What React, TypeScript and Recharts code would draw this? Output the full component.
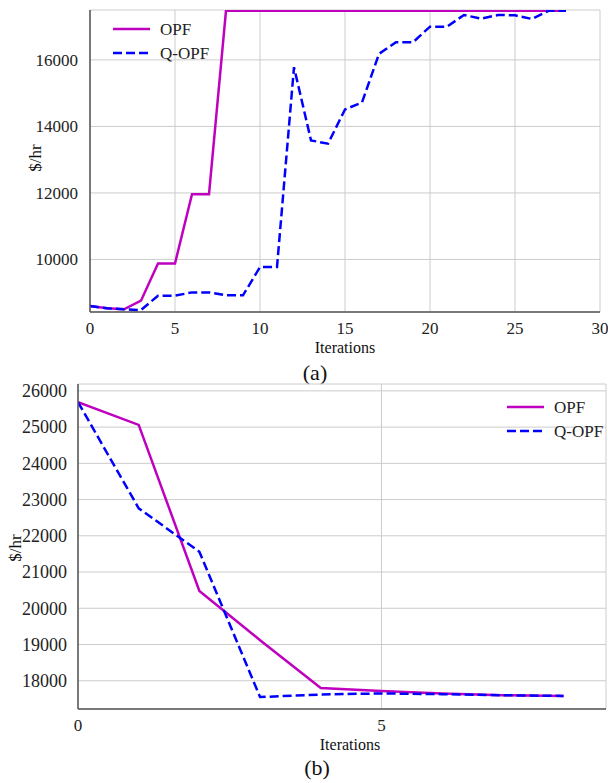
import { LineChart, Line, XAxis, YAxis, CartesianGrid } from "recharts";

// (a) iterations 0..28
const itersA = [0, 1, 2, 3, 4, 5, 6, 7, 8, 9, 10, 11, 12, 13, 14, 15, 16, 17, 18, 19, 20, 21, 22, 23, 24, 25, 26, 27, 28];
const opfA = [8600, 8530, 8500, 8760, 9880, 9880, 11960, 11960, 17480, 17480, 17480, 17480, 17480, 17480, 17480, 17480, 17480, 17480, 17480, 17480, 17480, 17480, 17480, 17480, 17480, 17480, 17480, 17480, 17480];
const qopfA = [8600, 8530, 8500, 8480, 8910, 8910, 9010, 9010, 8920, 8920, 9770, 9770, 15780, 13580, 13480, 14510, 14720, 16180, 16530, 16530, 17000, 17000, 17350, 17240, 17350, 17340, 17230, 17480, 17480];
const xTicksA = [0, 5, 10, 15, 20, 25, 30];
const yTicksA = [10000, 12000, 14000, 16000];

// (b) iterations 0..8
const itersB = [0, 1, 2, 3, 4, 5, 6, 7, 8];
const opfB = [25690, 25060, 20480, 19120, 17800, 17720, 17650, 17600, 17580];
const qopfB = [25690, 22760, 21560, 17550, 17620, 17650, 17630, 17600, 17580];
const xTicksB = [0, 5];
const yTicksB = [18000, 19000, 20000, 21000, 22000, 23000, 24000, 25000, 26000];

const seriesNames = ["OPF", "Q-OPF"];

const dataA = itersA.map((it, i) => ({ it, opf: opfA[i], qopf: qopfA[i] }));
const dataB = itersB.map((it, i) => ({ it, opf: opfB[i], qopf: qopfB[i] }));

const FONT = "Liberation Serif, serif";
const MAGENTA = "#BF00BF";
const BLUE = "#0000FF";
const AXIS = "#555555";
const GRID = "#cccccc";

const LegendBox = ({ left, top }: { left: number; top: number }) => (
  <svg width={110} height={52} style={{ position: "absolute", left, top, overflow: "visible" }}>
    <line x1={0} y1={12} x2={37} y2={12} stroke={MAGENTA} strokeWidth={2.5} />
    <text x={47} y={12} dy="0.35em" fontFamily={FONT} fontSize={17} fill="#222">{seriesNames[0]}</text>
    <line x1={0} y1={36} x2={37} y2={36} stroke={BLUE} strokeWidth={2.5} strokeDasharray="9 4" />
    <text x={47} y={36} dy="0.35em" fontFamily={FONT} fontSize={17} fill="#222">{seriesNames[1]}</text>
  </svg>
);

const textStyle = (x: number, y: number, size: number, rotate = false): React.CSSProperties => ({
  position: "absolute",
  left: x,
  top: y,
  transform: `translate(-50%, -50%)${rotate ? " rotate(-90deg)" : ""}`,
  fontFamily: FONT,
  fontSize: size,
  color: "#111",
  whiteSpace: "nowrap",
  lineHeight: 1,
});

const makeTick = (size: number, vertical: boolean) => (props: any) => {
  const { x, y, payload, textAnchor } = props;
  return (
    <text
      x={x}
      y={y}
      dy={vertical ? "0.35em" : "0.72em"}
      textAnchor={textAnchor}
      fontFamily={FONT}
      fontSize={size}
      fill="#222"
    >
      {payload.value}
    </text>
  );
};

export default function App() {
  return (
    <div style={{ position: "absolute", left: 0, top: 0, width: 608, height: 783, background: "#fff" }}>
      <div style={{ position: "absolute", left: 0, top: 0 }}>
        <LineChart width={608} height={360} data={dataA} margin={{ top: 10, right: 8, left: 0, bottom: 18 }}>
          <CartesianGrid stroke={GRID} strokeWidth={1} />
          <XAxis
            dataKey="it"
            type="number"
            domain={[0, 30]}
            ticks={xTicksA}
            height={30}
            stroke={AXIS}
            strokeWidth={1.5}
            tickLine={false}
            tickMargin={4}
            tick={makeTick(17, false)}
          />
          <YAxis
            type="number"
            domain={[8420, 17500]}
            allowDataOverflow
            ticks={yTicksA}
            width={90}
            stroke={AXIS}
            strokeWidth={1.5}
            tickLine={false}
            tickMargin={6}
            tick={makeTick(17, true)}
          />
          <Line dataKey="opf" name={seriesNames[0]} stroke={MAGENTA} strokeWidth={2.5} dot={false} isAnimationActive={false} />
          <Line dataKey="qopf" name={seriesNames[1]} stroke={BLUE} strokeWidth={2.5} strokeDasharray="9 4" dot={false} isAnimationActive={false} />
        </LineChart>
      </div>
      <LegendBox left={113} top={17} />
      <div style={textStyle(345, 348, 16)}>Iterations</div>
      <div style={textStyle(35, 158, 17, true)}>$/hr</div>
      <div style={textStyle(315, 373, 22)}>(a)</div>

      <div style={{ position: "absolute", left: 0, top: 370 }}>
        <LineChart width={608} height={413} data={dataB} margin={{ top: 14, right: 2, left: 0, bottom: 44 }}>
          <CartesianGrid stroke={GRID} strokeWidth={1} />
          <XAxis
            dataKey="it"
            type="number"
            domain={[0, 8.7]}
            allowDataOverflow
            ticks={xTicksB}
            height={30}
            stroke={AXIS}
            strokeWidth={1.5}
            tickLine={false}
            tickMargin={4}
            tick={makeTick(17, false)}
          />
          <YAxis
            type="number"
            domain={[17220, 26190]}
            allowDataOverflow
            ticks={yTicksB}
            width={78}
            stroke={AXIS}
            strokeWidth={1.5}
            tickLine={false}
            tickMargin={5}
            tick={makeTick(18, true)}
          />
          <Line dataKey="opf" name={seriesNames[0]} stroke={MAGENTA} strokeWidth={2.5} dot={false} isAnimationActive={false} />
          <Line dataKey="qopf" name={seriesNames[1]} stroke={BLUE} strokeWidth={2.5} strokeDasharray="9 4" dot={false} isAnimationActive={false} />
        </LineChart>
      </div>
      <LegendBox left={507} top={395} />
      <div style={textStyle(350, 745, 16)}>Iterations</div>
      <div style={textStyle(15, 548, 17, true)}>$/hr</div>
      <div style={textStyle(317, 768, 22)}>(b)</div>
    </div>
  );
}
